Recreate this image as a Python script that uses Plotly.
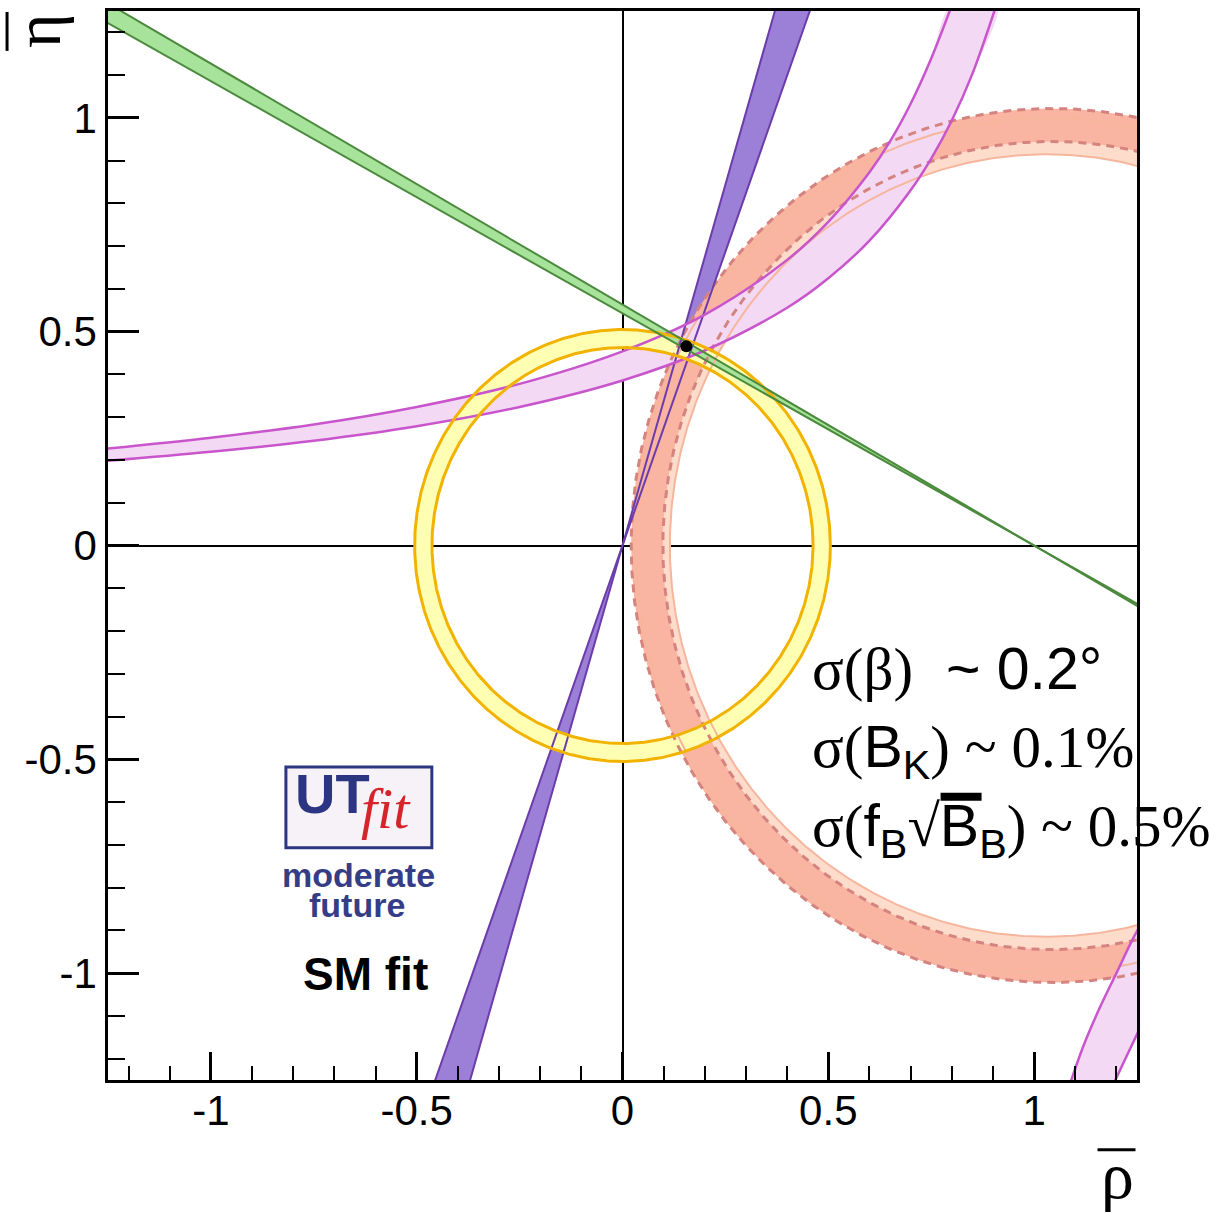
import numpy as np
import plotly.graph_objects as go

# ---- constraint values in the (rho_bar, eta_bar) plane ----
# |Vub/Vcb| ring around the origin: inner / outer radius
ru_band = [0.463, 0.505]
# Delta m_d ring (dashed edges): centre on rho axis, inner / outer radius
rt_center = 1.043
rt_band = [0.945, 1.022]
# Delta m_s / Delta m_d ring (light): centre, inner / outer radius
rt2_center = 1.03
rt2_band = [0.915, 1.000]
# gamma wedge through the origin: edge angles in degrees
gamma_band = [70.0, 73.5]
# beta wedge through (1, 0): edge angles in degrees
beta_vertex = [1.0, 0.0]
beta_band = [28.5, 29.4]
# epsilon_K band, upper branch: outer edge and inner edge
epsk_outer_rho = [-1.30, -1.00, -0.75, -0.50, -0.25, 0.00, 0.20, 0.40, 0.50, 0.60, 0.65, 0.70, 0.75, 0.80]
epsk_outer_eta = [0.222, 0.252, 0.283, 0.324, 0.378, 0.454, 0.540, 0.668, 0.757, 0.873, 0.945, 1.033, 1.139, 1.263]
epsk_inner_rho = [-1.30, -1.00, -0.75, -0.50, -0.25, 0.00, 0.20, 0.40, 0.50, 0.60, 0.70, 0.75, 0.80, 0.85, 0.91]
epsk_inner_eta = [0.194, 0.219, 0.245, 0.279, 0.324, 0.386, 0.456, 0.556, 0.625, 0.713, 0.831, 0.905, 0.994, 1.103, 1.269]
# epsilon_K band, lower branch
epsk_low_a_rho = [1.08, 1.12, 1.16, 1.20, 1.24, 1.28]
epsk_low_a_eta = [-1.28, -1.17, -1.08, -1.00, -0.92, -0.85]
epsk_low_b_rho = [1.19, 1.22, 1.25, 1.28]
epsk_low_b_eta = [-1.265, -1.204, -1.143, -1.082]
# fitted apex
apex_rho = [0.155]
apex_eta = [0.466]

tick_vals = [-1, -0.5, 0, 0.5, 1]
tick_text = ["-1", "-0.5", "0", "0.5", "1"]

# ---- colours ----
C_GREEN_F, C_GREEN_L = "#a8e39c", "#4b8a3d"
C_PURP_F, C_PURP_L = "#9c80d8", "#6b3caa"
C_MAG_F, C_MAG_L = "#f4d9f4", "#c955cc"
C_YEL_F, C_YEL_L = "#ffffb4", "#f2b300"
C_SAL_F, C_SAL_L = "#f9b5a1", "#d4837f"
C_SAL2_F, C_SAL2_L = "#fddccc", "#f6b69e"

th = np.linspace(0, 2 * np.pi, 721)
FAR = 4.0


def ring_fill(cx, r_in, r_out):
    xo = cx + r_out * np.cos(th)
    yo = r_out * np.sin(th)
    xi = cx + r_in * np.cos(th[::-1])
    yi = r_in * np.sin(th[::-1])
    return np.concatenate([xo, xi]), np.concatenate([yo, yi])


def circle(cx, r):
    return cx + r * np.cos(th), r * np.sin(th)


def wedge_fill(vx, vy, a1, a2, flip):
    # double wedge around a vertex, angles in degrees measured on the given side
    s = -1 if flip else 1
    d1, d2 = np.radians(a1), np.radians(a2)
    xs = [vx, vx + s * FAR * np.cos(d1), vx + s * FAR * np.cos(d2), vx,
          vx - s * FAR * np.cos(d1), vx - s * FAR * np.cos(d2), vx]
    ys = [vy, vy + FAR * np.sin(d1), vy + FAR * np.sin(d2), vy,
          vy - FAR * np.sin(d1), vy - FAR * np.sin(d2), vy]
    return xs, ys


def wedge_line(vx, vy, a, flip):
    s = -1 if flip else 1
    d = np.radians(a)
    return ([vx - s * FAR * np.cos(d), vx + s * FAR * np.cos(d)],
            [vy - FAR * np.sin(d), vy + FAR * np.sin(d)])


fig = go.Figure()


def add_fill(x, y, color, shape="linear"):
    fig.add_trace(go.Scatter(x=x, y=y, mode="lines", fill="toself", fillcolor=color,
                             line=dict(width=0, color=color, shape=shape),
                             hoverinfo="skip", showlegend=False))


def add_line(x, y, color, width, dash="solid", shape="linear"):
    fig.add_trace(go.Scatter(x=x, y=y, mode="lines",
                             line=dict(color=color, width=width, dash=dash, shape=shape),
                             hoverinfo="skip", showlegend=False))


# ---- filled bands ----
gx, gy = wedge_fill(0.0, 0.0, gamma_band[0], gamma_band[1], False)
add_fill(gx, gy, C_PURP_F)

x, y = ring_fill(rt2_center, rt2_band[0], rt2_band[1])
add_fill(x, y, C_SAL2_F)
x, y = ring_fill(rt_center, rt_band[0], rt_band[1])
add_fill(x, y, C_SAL_F)

# epsilon_K upper branch polygon
ex = list(epsk_outer_rho) + list(epsk_inner_rho[::-1])
ey = list(epsk_outer_eta) + list(epsk_inner_eta[::-1])
add_fill(ex, ey, C_MAG_F, shape="spline")
# epsilon_K lower branch polygon
lx = list(epsk_low_a_rho) + list(epsk_low_b_rho[::-1])
ly = list(epsk_low_a_eta) + list(epsk_low_b_eta[::-1])
add_fill(lx, ly, C_MAG_F, shape="spline")

x, y = ring_fill(0.0, ru_band[0], ru_band[1])
add_fill(x, y, C_YEL_F)

bx, by = wedge_fill(beta_vertex[0], beta_vertex[1], beta_band[0], beta_band[1], True)
add_fill(bx, by, C_GREEN_F)

# ---- band edges ----
for r in rt2_band:
    x, y = circle(rt2_center, r)
    add_line(x, y, C_SAL2_L, 2)
for r in rt_band:
    x, y = circle(rt_center, r)
    add_line(x, y, C_SAL_L, 3, dash="8px,6px")
for a in gamma_band:
    x, y = wedge_line(0.0, 0.0, a, False)
    add_line(x, y, C_PURP_L, 2)
add_line(epsk_outer_rho, epsk_outer_eta, C_MAG_L, 2.5, shape="spline")
add_line(epsk_inner_rho, epsk_inner_eta, C_MAG_L, 2.5, shape="spline")
add_line(epsk_low_a_rho, epsk_low_a_eta, C_MAG_L, 2.5, shape="spline")
add_line(epsk_low_b_rho, epsk_low_b_eta, C_MAG_L, 2.5, shape="spline")
for r in ru_band:
    x, y = circle(0.0, r)
    add_line(x, y, C_YEL_L, 3)
for a in beta_band:
    x, y = wedge_line(beta_vertex[0], beta_vertex[1], a, True)
    add_line(x, y, C_GREEN_L, 2)

fig.add_trace(go.Scatter(x=apex_rho, y=apex_eta, mode="markers",
                         marker=dict(color="black", size=12),
                         hoverinfo="skip", showlegend=False))

# ---- layout ----
L, R, T, B = 108, 1137.5, 8, 1080
W, H = 1229, 1213


def px(xp):
    return (xp - L) / (R - L)


def py(yp):
    return (B - yp) / (B - T)


axis_common = dict(
    range=[-1.25, 1.25], showgrid=False,
    zeroline=True, zerolinecolor="black", zerolinewidth=2,
    showline=True, linecolor="black", linewidth=2.5, mirror=True,
    ticks="inside", tickwidth=2.5, tickcolor="black",
    tickvals=tick_vals, ticktext=tick_text,
    tickfont=dict(family="Liberation Sans, Arial, sans-serif", size=42, color="black"),
    layer="above traces", fixedrange=True,
)

fig.update_layout(
    width=W, height=H, autosize=False,
    margin=dict(l=L, r=W - R, t=T, b=H - B, pad=0),
    paper_bgcolor="white", plot_bgcolor="white",
    xaxis=dict(axis_common, ticklen=28, ticklabelstandoff=-8,
               minor=dict(ticks="inside", ticklen=14, tickwidth=2, dtick=0.1, tick0=0,
                          tickcolor="black")),
    yaxis=dict(axis_common, ticklen=31,
               minor=dict(ticks="inside", ticklen=17, tickwidth=2, dtick=0.1, tick0=0,
                          tickcolor="black")),
    showlegend=False,
)

SANS = "Liberation Sans, Arial, sans-serif"
SERIF = "Liberation Serif, Times New Roman, serif"


def sp(txt, fam):
    return "<span style='font-family:%s'>%s</span>" % (fam, txt)


annos = []
# resolution summary
lines = [
    (sp("σ(β)", SERIF) + "  ~ 0.2°", 668),
    (sp("σ(", SERIF) + "B<sub>K</sub>" + sp(") ~ 0.1%", SERIF), 750),
    (sp("σ(", SERIF) + "f<sub>B</sub>" + sp("√", SERIF) + "B<sub>B</sub>" + sp(") ~ 0.5%", SERIF), 829),
]
for txt, yc in lines:
    annos.append(dict(text=txt, x=px(810), y=py(yc), xref="paper", yref="paper",
                      xanchor="left", yanchor="middle", showarrow=False,
                      font=dict(family=SANS, size=59, color="black")))

# logo block
annos += [
    dict(text="<b>UT</b>", x=px(293), y=py(793), xanchor="left", yanchor="middle",
         font=dict(family=SANS, size=56, color="#2c3581")),
    dict(text="<i>fit</i>", x=px(359), y=py(808), xanchor="left", yanchor="middle",
         font=dict(family=SERIF, size=58, color="#d6242b")),
    dict(text="<b>moderate</b>", x=px(359), y=py(874), xanchor="center", yanchor="middle",
         font=dict(family=SANS, size=34, color="#353d86")),
    dict(text="<b>future</b>", x=px(357), y=py(905), xanchor="center", yanchor="middle",
         font=dict(family=SANS, size=34, color="#353d86")),
    dict(text="<b>SM fit</b>", x=px(366), y=py(974), xanchor="center", yanchor="middle",
         font=dict(family=SANS, size=46, color="black")),
    # axis titles
    dict(text="η", x=px(38), y=py(28), xanchor="center", yanchor="middle", textangle=-90,
         font=dict(family=SERIF, size=66, color="black")),
    dict(text="ρ", x=px(1118), y=py(1176), xanchor="center", yanchor="middle",
         font=dict(family=SERIF, size=66, color="black")),
]
for a in annos:
    a.setdefault("xref", "paper")
    a.setdefault("yref", "paper")
    a["showarrow"] = False
fig.update_layout(annotations=annos)

shapes = [
    # logo frame
    dict(type="rect", xref="paper", yref="paper", x0=px(286), x1=px(432), y0=py(847), y1=py(766),
         line=dict(color="#2c3581", width=3), fillcolor="#f6f2f8", layer="above"),
    # bars over the axis symbols and the B parameter
    dict(type="line", xref="paper", yref="paper", x0=px(7), x1=px(7), y0=py(9), y1=py(48),
         line=dict(color="black", width=3)),
    dict(type="line", xref="paper", yref="paper", x0=px(1098), x1=px(1136), y0=py(1150), y1=py(1150),
         line=dict(color="black", width=3)),
    dict(type="line", xref="paper", yref="paper", x0=px(941), x1=px(982), y0=py(796), y1=py(796),
         line=dict(color="black", width=8)),
]
fig.update_layout(shapes=shapes)

fig.write_html("out.html")
